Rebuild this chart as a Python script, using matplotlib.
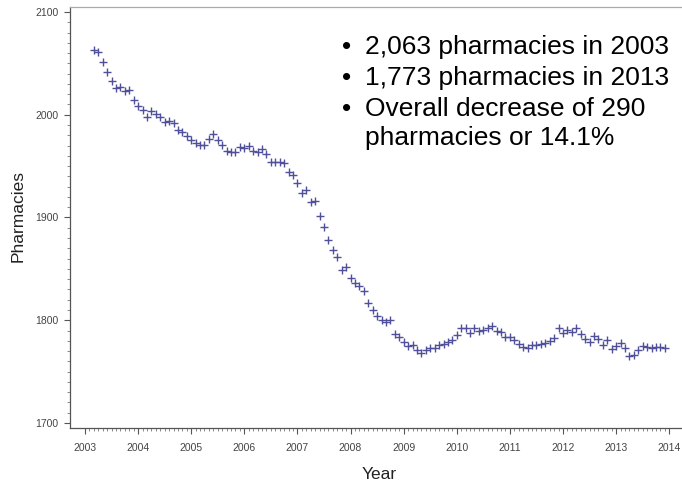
import numpy as np
import matplotlib.pyplot as plt
from matplotlib.ticker import MultipleLocator

# Monthly pharmacy counts, March 2003 .. December 2013
start_year = 2003
first_month = 2  # 0 = January
pharmacies = [
    2063, 2061, 2051, 2042, 2033, 2026, 2027.5, 2022.7, 2024, 2014.6,
    2009, 2005, 1997.7, 2004, 2001, 1997.4, 1992.5, 1994, 1992, 1985,
    1983, 1979, 1975, 1972.4, 1970.5, 1970.5, 1976, 1981, 1975.7, 1971,
    1965, 1964, 1964, 1969, 1968, 1970, 1965, 1964, 1966.6, 1962,
    1954, 1954, 1954, 1953, 1944.5, 1941, 1934, 1924, 1927, 1915,
    1916, 1901, 1891, 1878, 1868.5, 1861.4, 1849, 1852, 1841, 1836,
    1833, 1828, 1816.7, 1809.6, 1804, 1800.4, 1798.7, 1800.4, 1786.4, 1784,
    1779, 1774.5, 1776, 1771, 1768, 1771, 1772.5, 1773, 1776, 1777,
    1779, 1781, 1786, 1792.3, 1792, 1787.4, 1792, 1790, 1790.7, 1792,
    1794.5, 1789.7, 1789, 1783.6, 1784, 1781, 1777, 1774.4, 1773, 1776,
    1776, 1777, 1778, 1780, 1782.5, 1792, 1787.4, 1790.7, 1789, 1792,
    1787, 1781.6, 1779, 1785, 1781.6, 1776, 1781, 1772, 1775, 1778,
    1773, 1765, 1766.3, 1771, 1775, 1774, 1773, 1774, 1774.4, 1773,
]
months = np.arange(first_month, first_month + len(pharmacies))
t = start_year + months / 12.0

year_ticks = list(range(2003, 2015))
y_ticks = [1700, 1800, 1900, 2000, 2100]

bullets = [
    "2,063 pharmacies in 2003",
    "1,773 pharmacies in 2013",
    "Overall decrease of 290",
]
bullet_cont = "pharmacies or 14.1%"

W, H = 682, 482
fig = plt.figure(figsize=(W / 100, H / 100), dpi=100)
ax = fig.add_axes([70 / W, 1 - 428 / H, 1 - 70 / W, (428 - 7) / H])

ax.plot(t, pharmacies, linestyle="none", marker="+", markersize=5.5,
        markeredgewidth=1.0, color="#50509a")

# 2003 sits ~15 px right of the left spine, ~53 px per year
ax.set_xlim(2002.718, 2014.24)
ax.set_ylim(1695.1, 2104.9)
ax.set_xticks(year_ticks)
ax.set_yticks(y_ticks)
ax.set_xticks(np.arange(2003, 2014 + 1e-9, 1 / 12), minor=True)
ax.yaxis.set_minor_locator(MultipleLocator(10))

tick_font = dict(family="Liberation Sans", size=7.5, color="#444444")
ax.set_xticklabels([str(y) for y in year_ticks], **tick_font)
ax.set_yticklabels([str(v) for v in y_ticks], **tick_font)
ax.tick_params(axis="both", which="major", direction="out", length=4.5,
               width=0.8, color="#555555")
ax.tick_params(axis="both", which="minor", direction="out", length=2.2,
               width=0.6, color="#777777")
ax.tick_params(axis="x", which="major", pad=6)
ax.tick_params(axis="y", which="major", pad=4)

for side in ("left", "bottom"):
    ax.spines[side].set_color("#555555")
    ax.spines[side].set_linewidth(0.9)
ax.spines["top"].set_color("#aaaaaa")
ax.spines["top"].set_linewidth(0.9)
ax.spines["right"].set_visible(False)

label_font = dict(family="Liberation Sans", size=12.5, color="#222222")
fig.text(18.5 / W, 1 - 216 / H, "Pharmacies", rotation=90,
         ha="center", va="center", **label_font)
fig.text(379 / W, 1 - 479 / H, "Year", ha="center", va="baseline",
         **label_font)

note_font = dict(family="Liberation Sans", size=19, color="black")
baselines = [54.3, 85, 115.7]
for line, yb in zip(bullets, baselines):
    fig.text(347 / W, 1 - yb / H, "\u2022", ha="center", va="baseline",
             **note_font)
    fig.text(365 / W, 1 - yb / H, line, ha="left", va="baseline", **note_font)
fig.text(365 / W, 1 - 145 / H, bullet_cont, ha="left", va="baseline",
         **note_font)

fig.savefig("out.png", dpi=100)
